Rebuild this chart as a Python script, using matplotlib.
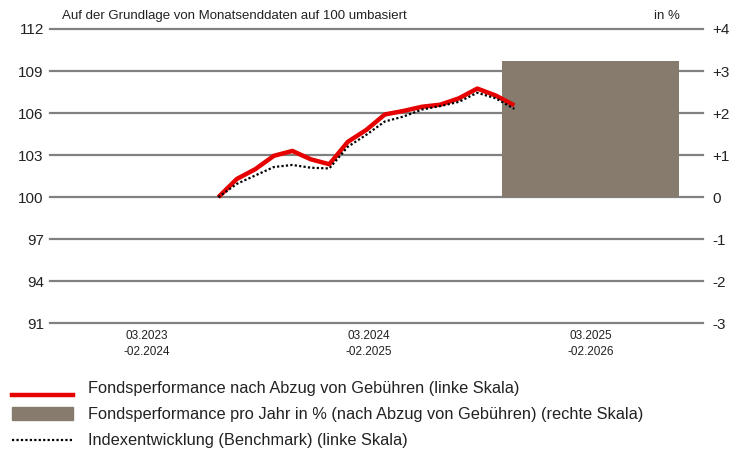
import numpy as np
import matplotlib.pyplot as plt
from matplotlib.lines import Line2D
from matplotlib.patches import Rectangle

plt.rcParams['font.family'] = ['Liberation Sans', 'DejaVu Sans']

# --- Daten ---
perioden = ["03.2023\n-02.2024", "03.2024\n-02.2025", "03.2025\n-02.2026"]
fonds = [100.0, 101.3, 102.0, 102.95, 103.3, 102.7, 102.35, 103.95, 104.8,
         105.9, 106.15, 106.45, 106.6, 107.05, 107.75, 107.25, 106.55]
index = [100.0, 100.95, 101.55, 102.15, 102.3, 102.1, 102.05, 103.6, 104.45,
         105.4, 105.75, 106.25, 106.5, 106.8, 107.45, 107.05, 106.3]
perf_jahr = [None, None, 3.23]   # rechte Skala, in %
links_ticks = [91, 94, 97, 100, 103, 106, 109, 112]
rechts_labels = ["-3", "-2", "-1", "0", "+1", "+2", "+3", "+4"]
legende = ["Fondsperformance nach Abzug von Gebühren (linke Skala)",
           "Fondsperformance pro Jahr in % (nach Abzug von Gebühren) (rechte Skala)",
           "Indexentwicklung (Benchmark) (linke Skala)"]

ROT = "#e60000"
BRAUN = "#877b6d"
GRAU = "#808080"

START_MONAT = 9.86   # Ende Dez. 2023, gemessen ab Ende Feb. 2023
mitte = [6, 18, 30]

fig = plt.figure(figsize=(7.42, 4.53), dpi=100)
ax = fig.add_axes([0.0674, 0.2863, 0.88, 0.6497])
ax2 = ax.twinx()

# rechte Achse: Gitter + Balken (unten)
ax2.set_ylim(-3, 4)
ax2.set_yticks(range(-3, 5))
ax2.set_yticklabels(rechts_labels)
ax2.grid(axis='y', color=GRAU, linewidth=1.6)
for gl in ax2.get_ygridlines():
    gl.set_clip_on(False)
ax2.set_axisbelow(True)
for m, v in zip(mitte, perf_jahr):
    if v is not None:
        ax2.bar(m, v, width=9.57, color=BRAUN, zorder=2)

# linke Achse: Linien (oben)
ax.set_zorder(ax2.get_zorder() + 1)
ax.patch.set_visible(False)
x = np.arange(len(fonds)) + START_MONAT
ax.plot(x, fonds, color=ROT, linewidth=3.2, solid_capstyle='butt', zorder=3)
ax.plot(x, index, color='black', linewidth=1.6, linestyle=(0, (1, 1)), zorder=4)
ax.set_ylim(91, 112)
ax.set_yticks(links_ticks)
ax.set_xlim(0.76, 36.06)
ax.set_xticks(mitte)
ax.set_xticklabels(perioden, fontsize=8.5, linespacing=1.45)

for a in (ax, ax2):
    for s in a.spines.values():
        s.set_visible(False)
    a.tick_params(length=0)
ax.tick_params(axis='y', labelsize=11, pad=4.5, colors='#222222')
ax.tick_params(axis='x', pad=5, colors='#222222')
ax2.tick_params(axis='y', labelsize=11, pad=6.5, colors='#222222')

fig.text(62 / 742, 1 - 16 / 453, "Auf der Grundlage von Monatsenddaten auf 100 umbasiert",
         fontsize=9.5, va='center', ha='left', color='#222222')
fig.text(680 / 742, 1 - 16 / 453, "in %", fontsize=9.5, va='center', ha='right', color='#222222')

# --- Legende ---
def fy(p):
    return 1 - p / 453

fig.add_artist(Line2D([12 / 742, 73 / 742], [fy(395), fy(395)], color=ROT, linewidth=3.2))
fig.add_artist(Rectangle((12 / 742, fy(420)), 61 / 742, 13 / 453, color=BRAUN,
                         transform=fig.transFigure))
fig.add_artist(Line2D([12 / 742, 73 / 742], [fy(440), fy(440)], color='black', linewidth=1.6,
                      linestyle=(0, (1, 1))))
for txt, yy in zip(legende, [389, 414, 440]):
    fig.text(88 / 742, fy(yy), txt, fontsize=11.8, va='center', ha='left', color='#222222')

plt.savefig("out.png", dpi=100)
